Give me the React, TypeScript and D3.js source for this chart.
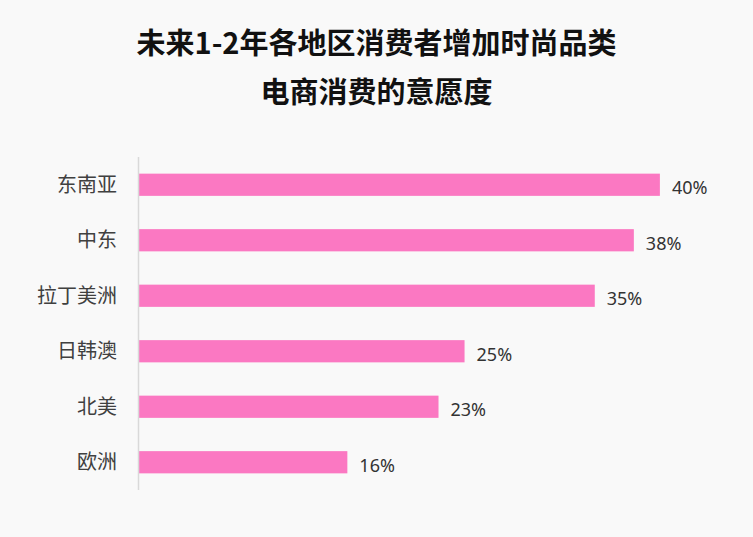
import { useEffect, useRef } from 'react';
import * as d3 from 'd3';

const regions = ['东南亚', '中东', '拉丁美洲', '日韩澳', '北美', '欧洲'];
const shares = [40, 38, 35, 25, 23, 16];
const titleLines = ['未来1-2年各地区消费者增加时尚品类', '电商消费的意愿度'];

const W = 753;
const H = 537;
const BAR = '#fb78c2';

export default function App() {
  const svgRef = useRef<SVGSVGElement>(null);

  useEffect(() => {
    if (!svgRef.current) return;
    const svg = d3.select(svgRef.current);
    svg.selectAll('*').remove();

    svg.append('rect').attr('width', W).attr('height', H).attr('fill', '#f9f9f9');

    svg
      .append('g')
      .selectAll('text')
      .data(titleLines)
      .join('text')
      .attr('x', W / 2)
      .attr('y', (_, i) => 54 + i * 49)
      .attr('text-anchor', 'middle')
      .attr('font-family', '"Noto Sans CJK SC", "Noto Sans", sans-serif')
      .attr('font-weight', 700)
      .attr('font-size', 29)
      .attr('fill', '#111')
      .text((d) => d);

    const x = d3.scaleLinear().domain([0, 45]).range([139, 725]);
    const y = d3
      .scaleBand<string>()
      .domain(regions)
      .range([157, 490])
      .paddingInner(0.6)
      .paddingOuter(0.3);

    const rows = regions.map((r, i) => ({ region: r, value: shares[i] }));

    svg
      .append('g')
      .selectAll('rect')
      .data(rows)
      .join('rect')
      .attr('x', x(0))
      .attr('y', (d) => y(d.region)!)
      .attr('width', (d) => x(d.value) - x(0))
      .attr('height', y.bandwidth())
      .attr('fill', BAR);

    // axis line only, no ticks
    svg
      .append('line')
      .attr('x1', x(0) - 0.5)
      .attr('x2', x(0) - 0.5)
      .attr('y1', y.range()[0])
      .attr('y2', y.range()[1])
      .attr('stroke', '#d9d9d9')
      .attr('stroke-width', 1.5);

    svg
      .append('g')
      .selectAll('text')
      .data(rows)
      .join('text')
      .attr('x', 117)
      .attr('y', (d) => y(d.region)! + y.bandwidth() / 2)
      .attr('dy', '0.35em')
      .attr('text-anchor', 'end')
      .attr('font-family', '"Noto Sans CJK SC", sans-serif')
      .attr('font-size', 20)
      .attr('fill', '#404040')
      .text((d) => d.region);

    svg
      .append('g')
      .selectAll('text')
      .data(rows)
      .join('text')
      .attr('x', (d) => x(d.value) + 12)
      .attr('y', (d) => y(d.region)! + y.bandwidth() / 2)
      .attr('dy', 9.5)
      .attr('font-family', '"Noto Sans", sans-serif')
      .attr('font-size', 18)
      .attr('fill', '#333')
      .text((d) => `${d.value}%`);
  }, []);

  return (
    <svg
      ref={svgRef}
      width={W}
      height={H}
      style={{ position: 'absolute', left: 0, top: 0, display: 'block' }}
    />
  );
}
